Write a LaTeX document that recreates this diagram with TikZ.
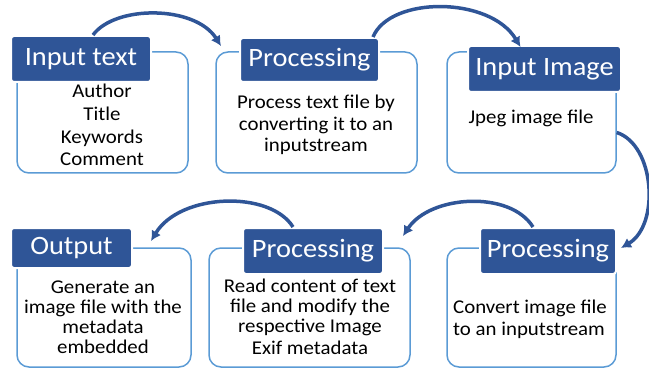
\documentclass[tikz,border=0pt]{standalone}
\usepackage{fontspec}
\setmainfont{Carlito}[FakeStretch=1.07]
\usetikzlibrary{arrows.meta,calc}
\definecolor{hdr}{RGB}{47,85,151}
\definecolor{outl}{RGB}{91,155,213}
\begin{document}
\begin{tikzpicture}[x=1pt,y=-1pt,
 outline/.style={draw=outl,line width=1.5pt,rounded corners=12pt,inner sep=0pt},
 hdrbox/.style={fill=hdr,draw=white,line width=2pt,rounded corners=3pt,text=white,font=\fontsize{26.5}{30}\selectfont,inner sep=0pt},
 body/.style={font=\fontsize{19.5}{22}\selectfont,align=center,inner sep=0pt},
 flow/.style={draw=hdr,line width=3.5pt,-{Latex[length=10pt,width=11pt]}}]
\useasboundingbox (0,0) rectangle (649,369);
% outline boxes
\node[outline,minimum width=171pt,minimum height=121pt] (b1) at (102.5,112.5) {};
\node[outline,minimum width=201pt,minimum height=121pt] (b2) at (316.5,112.5) {};
\node[outline,minimum width=169pt,minimum height=121pt] (b3) at (531.5,112.5) {};
\node[outline,minimum width=174pt,minimum height=119pt] (b4) at (104,307.5) {};
\node[outline,minimum width=201pt,minimum height=119pt] (b5) at (309.5,307.5) {};
\node[outline,minimum width=169pt,minimum height=119pt] (b6) at (531.5,307.5) {};
% headers
\node[hdrbox,minimum width=140pt,minimum height=46pt] (h1) at (81,59) {Input text};
\node[hdrbox,minimum width=139pt,minimum height=44pt] (h2) at (309.5,60) {Processing};
\node[hdrbox,minimum width=153pt,minimum height=46pt] (h3) at (544.5,69) {Input Image};
\node[hdrbox,minimum width=121pt,minimum height=40pt] (h4) at (71.5,248) {Output};
\node[hdrbox,minimum width=140pt,minimum height=46pt] (h5) at (313,251) {Processing};
\node[hdrbox,minimum width=136pt,minimum height=46pt] (h6) at (548,251) {Processing};
% body texts
\node[body,font=\fontsize{19.5}{22.7}\selectfont] (t1) at (102,125) {Author\\Title\\Keywords\\Comment};
\node[body,font=\fontsize{19.5}{21.5}\selectfont] (t2) at (316,125) {Process text file by\\converting it to an\\inputstream};
\node[body] (t3) at (531,118) {Jpeg image file};
\node[body,font=\fontsize{19.5}{20}\selectfont] (t4) at (103,317) {Generate an\\image file with the\\metadata\\embedded};
\node[body,font=\fontsize{19.5}{20}\selectfont] (t5) at (310,317) {Read content of text\\file and modify the\\respective Image\\[2pt]Exif metadata};
\node[body,align=left] (t6) at (530,319) {Convert image file\\to an inputstream};
% arrows
\draw[flow] ([xshift=12pt]h1.north) .. controls (115,5) and (195,5) .. ([shift={(-18pt,-9pt)}]h2.north west);
\draw[flow] ([xshift=-7pt]h2.north east) .. controls (390,-4) and (490,-4) .. ([shift={(-24pt,-2pt)}]h3.north);
\draw[flow] ([yshift=-20pt]b3.east) .. controls (655,145) and (660,225) .. ([shift={(4pt,3pt)}]h6.east);
\draw[flow] ([xshift=-15pt]h6.north) .. controls (510,190) and (430,195) .. ([shift={(19pt,-9pt)}]h5.north east);
\draw[flow] ([xshift=-20pt]h5.north) .. controls (270,190) and (180,193) .. ([shift={(18pt,-14pt)}]h4.north east);
\end{tikzpicture}
\end{document}
